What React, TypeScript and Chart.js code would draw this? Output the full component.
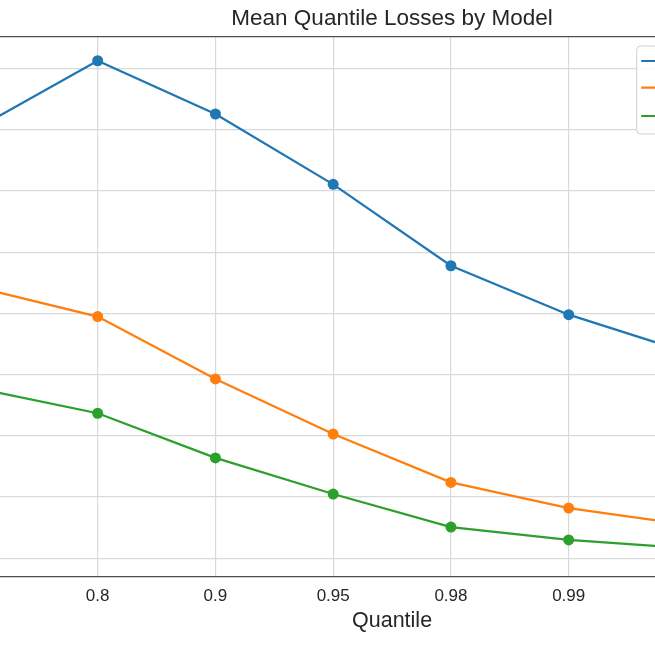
import { useEffect, useRef } from "react";
import { Chart, registerables } from "chart.js";

Chart.register(...registerables);

// ---- data ----
const quantiles = ["0.75", "0.8", "0.9", "0.95", "0.98", "0.99", "0.995", "0.999"];
const modelNames = ["Quantile Regression", "Gradient Boosting", "Neural Network"];
const seriesA = [7.05, 8.13, 7.26, 6.11, 4.78, 3.98, 3.37, 2.9];
const seriesB = [4.42, 3.95, 2.93, 2.03, 1.24, 0.82, 0.55, 0.4];
const seriesC = [2.77, 2.37, 1.64, 1.05, 0.51, 0.3, 0.165, 0.1];
const seriesColors = ["#1f77b4", "#ff7f0e", "#2ca02c"];

const FONT = '"Liberation Sans", Arial, Helvetica, sans-serif';
const TEXT = "#262626";

const frameAndLegend = {
  id: "frameAndLegend",
  afterDatasetsDraw(chart: any) {
    const { ctx, chartArea: a } = chart;
    ctx.save();
    // top & right spines
    ctx.strokeStyle = "#4d4d4d";
    ctx.lineWidth = 1.3;
    ctx.beginPath();
    ctx.moveTo(a.left, a.top);
    ctx.lineTo(a.right, a.top);
    ctx.lineTo(a.right, a.bottom);
    ctx.stroke();

    // legend (matplotlib style, upper right inside axes)
    const fs = 17;
    ctx.font = `${fs}px ${FONT}`;
    const datasets = chart.data.datasets;
    const left = a.right - 208.7;
    const top = 46;
    const h = 88;
    const handle = 40;
    const padL = 4.5;
    const textPad = 11;
    const textW = Math.max(...datasets.map((d: any) => ctx.measureText(d.label).width));
    const w = padL + handle + textPad + textW + 8;
    const r = 4;
    ctx.beginPath();
    ctx.moveTo(left + r, top);
    ctx.lineTo(left + w - r, top);
    ctx.arcTo(left + w, top, left + w, top + r, r);
    ctx.lineTo(left + w, top + h - r);
    ctx.arcTo(left + w, top + h, left + w - r, top + h, r);
    ctx.lineTo(left + r, top + h);
    ctx.arcTo(left, top + h, left, top + h - r, r);
    ctx.lineTo(left, top + r);
    ctx.arcTo(left, top, left + r, top, r);
    ctx.closePath();
    ctx.fillStyle = "rgba(255,255,255,0.85)";
    ctx.fill();
    ctx.strokeStyle = "#d0d0d0";
    ctx.lineWidth = 1;
    ctx.stroke();

    const rows = [61, 87.7, 116];
    datasets.forEach((d: any, i: number) => {
      const y = rows[i];
      const x0 = left + padL;
      ctx.strokeStyle = d.borderColor;
      ctx.lineWidth = 2.2;
      ctx.beginPath();
      ctx.moveTo(x0, y);
      ctx.lineTo(x0 + handle, y);
      ctx.stroke();
      ctx.fillStyle = d.borderColor;
      ctx.beginPath();
      ctx.arc(x0 + handle / 2, y, 5.5, 0, Math.PI * 2);
      ctx.fill();
      ctx.fillStyle = TEXT;
      ctx.textBaseline = "middle";
      ctx.textAlign = "left";
      ctx.fillText(d.label, x0 + handle + textPad, y);
    });
    ctx.restore();
  },
};

export default function App() {
  const ref = useRef<HTMLCanvasElement | null>(null);

  useEffect(() => {
    if (!ref.current) return;
    const allSeries = [seriesA, seriesB, seriesC];
    const chart = new Chart(ref.current, {
      type: "line",
      data: {
        datasets: allSeries.map((s, i) => ({
          label: modelNames[i],
          data: s.map((v, j) => ({ x: j, y: v })),
          borderColor: seriesColors[i],
          backgroundColor: seriesColors[i],
          pointBackgroundColor: seriesColors[i],
          borderWidth: 2.3,
          pointRadius: 5.5,
          pointBorderWidth: 0,
          tension: 0,
          fill: false,
        })),
      },
      options: {
        animation: false,
        responsive: false,
        devicePixelRatio: 1,
        events: [],
        layout: { padding: { left: 0, right: 204.6, top: 0, bottom: 0 } },
        plugins: {
          legend: { display: false },
          tooltip: { enabled: false },
          title: {
            display: true,
            fullSize: false,
            text: "Mean Quantile Losses by Model",
            color: TEXT,
            font: { family: FONT, size: 22.5, weight: "normal", lineHeight: 1.2 },
            padding: { top: 5, bottom: 4.7 },
          },
        },
        scales: {
          x: {
            type: "linear",
            min: -0.35,
            max: 7.35,
            afterFit: (s: any) => {
              s.height = 78;
            },
            ticks: {
              stepSize: 1,
              includeBounds: false,
              autoSkip: false,
              maxRotation: 0,
              padding: 8.8,
              color: TEXT,
              font: { family: FONT, size: 17 },
              callback: (v: any) => quantiles[v as number] ?? "",
            },
            grid: { color: "#d9d9d9", lineWidth: 1.2, drawTicks: false },
            border: { color: "#4d4d4d", width: 1.3 },
            title: {
              display: true,
              text: "Quantile",
              color: TEXT,
              font: { family: FONT, size: 21.5, lineHeight: 1.2 },
              padding: { top: 0, bottom: 21.1 },
            },
          },
          y: {
            min: -0.306,
            max: 8.523,
            afterFit: (s: any) => {
              s.width = 88.7;
            },
            ticks: {
              stepSize: 1,
              includeBounds: false,
              padding: 8,
              color: TEXT,
              font: { family: FONT, size: 17 },
            },
            grid: { color: "#d9d9d9", lineWidth: 1.2, drawTicks: false },
            border: { color: "#4d4d4d", width: 1.3 },
            title: {
              display: true,
              text: "Mean Quantile Loss",
              color: TEXT,
              font: { family: FONT, size: 21.5 },
            },
          },
        },
      },
      plugins: [frameAndLegend],
    } as any);
    return () => chart.destroy();
  }, []);

  return (
    <div
      style={{
        position: "fixed",
        left: 0,
        top: 0,
        width: 655,
        height: 655,
        overflow: "hidden",
        background: "#ffffff",
      }}
    >
      <canvas
        ref={ref}
        width={1200}
        height={655}
        style={{ position: "absolute", left: -150, top: 0, width: 1200, height: 655 }}
      />
    </div>
  );
}
